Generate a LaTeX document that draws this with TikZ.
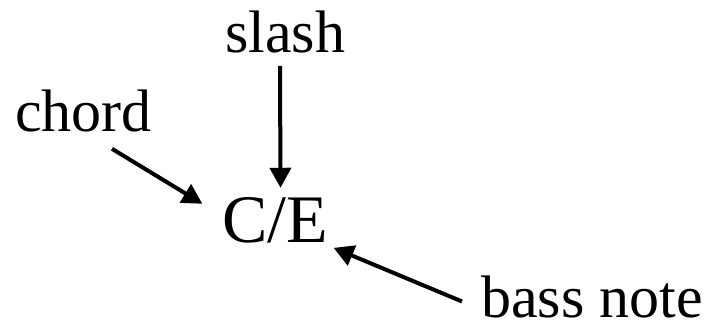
\documentclass[tikz,border=0pt]{standalone}
\usepackage{fontspec}
\setmainfont{Liberation Serif}
\usetikzlibrary{arrows.meta}

\begin{document}
\begin{tikzpicture}[
  x=1pt, y=1pt,
  label/.style={inner sep=0pt, font=\fontsize{60}{72}\selectfont},
  symbol/.style={inner sep=0pt, font=\fontsize{68}{80}\selectfont},
  arrow/.style={-{Triangle[length=20pt,width=21pt]}, line width=4pt}
]
\useasboundingbox (0,0) rectangle (705,324);

\node[symbol, anchor=base] (ce) at (275.5,81) {C/E};
\node[label, anchor=base] (slash) at (285,271) {slash};
\node[label, anchor=base west] (chord) at (15,192) {chord};
\node[label, anchor=base west] (bass) at (481,6) {bass note};

\draw[arrow] ([shift={(-5,-12)}]slash.south) -- ([shift={(5,10)}]ce.north);
\draw[arrow] ([shift={(97,-16)}]chord.south west) -- ([shift={(-20,-6)}]ce.north west);
\draw[arrow] ([shift={(-19,-4)}]bass.west) -- ([shift={(5,-4)}]ce.south east);
\end{tikzpicture}
\end{document}
